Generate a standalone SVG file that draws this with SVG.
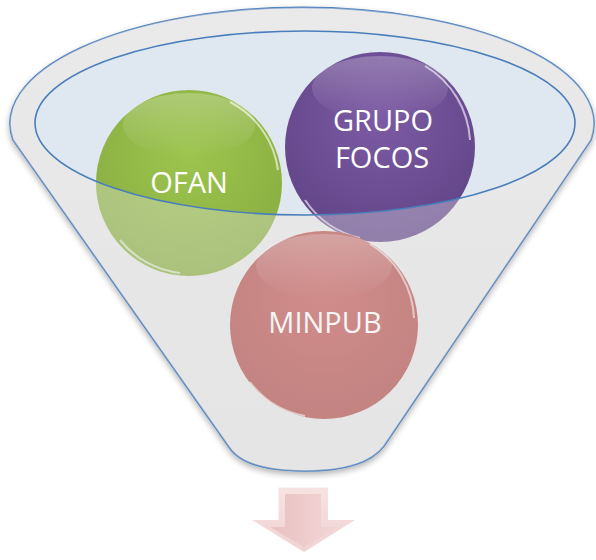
<svg xmlns="http://www.w3.org/2000/svg" width="596" height="560" viewBox="0 0 596 560">
<defs>
<style>
.lbl{font-family:"Open Sans","Liberation Sans",sans-serif;font-size:29px;fill:#ffffff;text-anchor:middle}
.rim{fill:none;stroke:#ffffff;stroke-opacity:0.6;stroke-width:2}
</style>
<filter id="sh" x="-10%" y="-10%" width="120%" height="120%">
<feGaussianBlur in="SourceAlpha" stdDeviation="3"/>
<feOffset dx="0" dy="3" result="b"/>
<feComponentTransfer><feFuncA type="linear" slope="0.3"/></feComponentTransfer>
<feMerge><feMergeNode/><feMergeNode in="SourceGraphic"/></feMerge>
</filter>
<linearGradient id="body" x1="0" y1="0" x2="0" y2="1">
<stop offset="0" stop-color="#ececec"/>
<stop offset="1" stop-color="#e4e4e4"/>
</linearGradient>
<radialGradient id="gG" cx="0.5" cy="0.35" r="0.75">
<stop offset="0" stop-color="#9dc44e"/>
<stop offset="1" stop-color="#86aa3f"/>
</radialGradient>
<radialGradient id="gP" cx="0.5" cy="0.35" r="0.75">
<stop offset="0" stop-color="#7c5ba4"/>
<stop offset="1" stop-color="#5e4184"/>
</radialGradient>
<radialGradient id="gR" cx="0.5" cy="0.35" r="0.75">
<stop offset="0" stop-color="#c45956"/>
<stop offset="1" stop-color="#ab4a47"/>
</radialGradient>
<linearGradient id="hl" x1="0" y1="0" x2="0" y2="1">
<stop offset="0" stop-color="#ffffff" stop-opacity="0.25"/>
<stop offset="1" stop-color="#ffffff" stop-opacity="0"/>
</linearGradient>
<linearGradient id="arr" x1="0" y1="0" x2="0" y2="1">
<stop offset="0" stop-color="#f7e2e2"/>
<stop offset="1" stop-color="#f1d2d2"/>
</linearGradient>
<linearGradient id="arrIn" x1="0" y1="0" x2="1" y2="0">
<stop offset="0" stop-color="#e9c0c0"/>
<stop offset="1" stop-color="#f2d6d6"/>
</linearGradient>
</defs>
<rect width="596" height="560" fill="#ffffff"/>

<g id="funnel">
<path d="M 13,140 A 292 116 0 1 1 591,140 L 384,446 C 372,462 345,471 305,471 C 268,471 240,464 229,447 Z" fill="url(#body)" stroke="#4f81bd" stroke-width="1.6" filter="url(#sh)"/>
<ellipse cx="305" cy="123" rx="270" ry="92" fill="#dfe7f0"/>
</g>

<g id="node-ofan">
<circle cx="189" cy="183" r="93" fill="url(#gG)"/>
<ellipse cx="189" cy="125" rx="66" ry="32" fill="url(#hl)"/>
<path class="rim" d="M 120,240 A 90 90 0 0 0 180,273"/>
<path class="rim" d="M 230,102 A 90 90 0 0 1 278,170"/>
<text class="lbl" x="189" y="193">OFAN</text>
</g>

<g id="node-grupo">
<circle cx="380" cy="147" r="95" fill="url(#gP)"/>
<ellipse cx="380" cy="88" rx="68" ry="32" fill="url(#hl)"/>
<path class="rim" d="M 305,200 A 92 92 0 0 0 360,238"/>
<path class="rim" d="M 425,66 A 92 92 0 0 1 470,140"/>
<text class="lbl" x="383" y="131">GRUPO</text>
<text class="lbl" x="382" y="168">FOCOS</text>
</g>

<g id="node-minpub">
<circle cx="324" cy="325" r="94" fill="url(#gR)"/>
<ellipse cx="324" cy="266" rx="68" ry="32" fill="url(#hl)"/>
<path class="rim" d="M 250,382 A 90 90 0 0 0 305,416"/>
<path class="rim" d="M 370,244 A 90 90 0 0 1 414,318"/>
<text class="lbl" x="325" y="333">MINPUB</text>
</g>

<g id="funnel-front">
<path d="M 13,140 A 292 116 0 1 1 591,140 L 384,446 C 372,462 345,471 305,471 C 268,471 240,464 229,447 Z M 35,123 A 270 92 0 1 0 575,123 A 270 92 0 1 0 35,123 Z" fill="#e6e6e6" fill-opacity="0.36" fill-rule="evenodd"/>
<ellipse cx="305" cy="123" rx="270" ry="92" fill="none" stroke="#4a7ebb" stroke-width="1.6"/>
</g>

<g id="connectors">
<polygon points="278,487 328,487 328,520 355,520 304,552 252,520 278,520" fill="url(#arr)"/>
<polygon points="285,494 321,494 321,527 338,527 304,547 270,527 285,527" fill="url(#arrIn)"/>
<polyline points="278,520 278,487 328,487" fill="none" stroke="#ffffff" stroke-width="1.5" stroke-opacity="0.8"/>
</g>
</svg>
